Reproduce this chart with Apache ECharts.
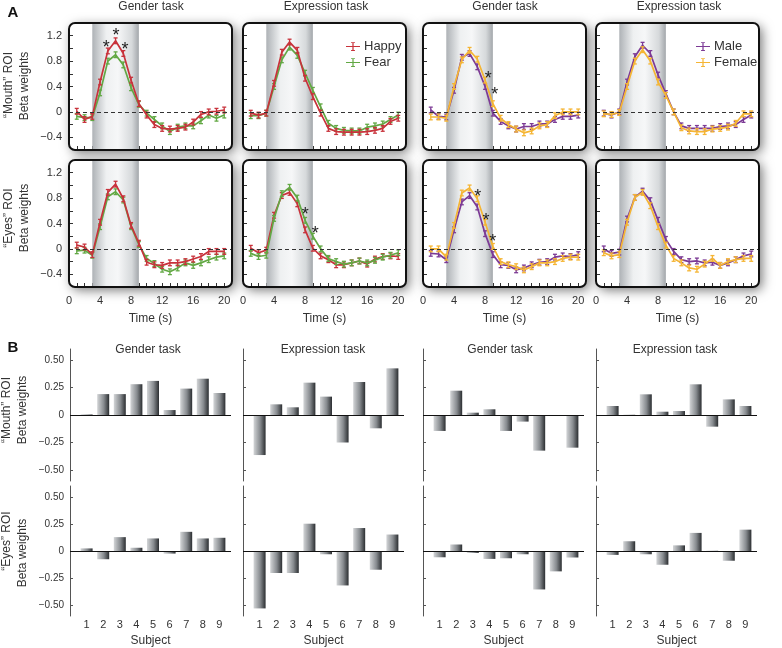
<!DOCTYPE html>
<html>
<head>
<meta charset="utf-8">
<script src="https://cdn.jsdelivr.net/npm/echarts@6.0.0/dist/echarts.min.js"></script>
<style>
html,body{margin:0;padding:0;background:#fff;}
#chart{width:782px;height:648px;}
</style>
</head>
<body>
<div id="chart"></div>
<script>
// ================= DATA =================
const timeSec = [1,2,3,4,5,6,7,8,9,10,11,12,13,14,15,16,17,18,19,20];
const timeLabelValues = [0,4,8,12,16,20];
const timeTickValues = [1,2,3,4,5,6,7,8,9,10,11,12,13,14,15,16,17,18,19,20];
const betaLabelValuesA = [-0.4,0,0.4,0.8,1.2];
const betaTickValuesA = [-0.4,-0.2,0,0.2,0.4,0.6,0.8,1.0,1.2];
const stimulusWindow = [3, 9];
const semHalf = 0.045;

// "Mouth" ROI
const mouthGenderHappy   = [0.01,-0.12,-0.07,0.47,0.96,1.12,0.92,0.50,0.13,-0.05,-0.20,-0.26,-0.27,-0.26,-0.24,-0.16,-0.04,0.00,0.01,0.03];
const mouthGenderFear    = [-0.07,-0.09,-0.09,0.30,0.80,0.90,0.74,0.38,0.12,-0.02,-0.12,-0.22,-0.31,-0.24,-0.22,-0.22,-0.14,-0.05,-0.10,-0.05];
const mouthExprHappy     = [-0.02,-0.05,-0.02,0.45,0.94,1.10,0.97,0.53,0.24,-0.02,-0.26,-0.31,-0.32,-0.32,-0.32,-0.31,-0.29,-0.26,-0.15,-0.10];
const mouthExprFear      = [-0.06,-0.06,-0.02,0.40,0.82,1.02,0.89,0.61,0.34,0.08,-0.18,-0.26,-0.29,-0.30,-0.30,-0.24,-0.22,-0.19,-0.12,-0.05];
const mouthGenderMale    = [0.03,-0.07,-0.08,0.34,0.86,0.92,0.71,0.40,-0.02,-0.15,-0.22,-0.27,-0.23,-0.23,-0.19,-0.19,-0.12,-0.07,-0.07,-0.05];
const mouthGenderFemale  = [-0.08,-0.08,-0.10,0.40,0.82,0.97,0.83,0.50,0.13,-0.10,-0.20,-0.27,-0.33,-0.30,-0.22,-0.20,-0.06,0.00,0.00,0.00];
const mouthExprMale      = [-0.02,-0.05,0.00,0.47,0.87,1.05,0.92,0.58,0.29,0.00,-0.22,-0.26,-0.26,-0.26,-0.26,-0.23,-0.22,-0.20,-0.12,-0.05];
const mouthExprFemale    = [-0.03,-0.04,-0.01,0.40,0.80,0.98,0.80,0.47,0.26,0.00,-0.25,-0.30,-0.31,-0.31,-0.27,-0.26,-0.24,-0.18,-0.03,-0.03];
// "Eyes" ROI
const eyesGenderHappy    = [0.06,0.03,-0.09,0.42,0.89,1.02,0.79,0.37,0.09,-0.21,-0.25,-0.26,-0.22,-0.22,-0.20,-0.16,-0.12,-0.04,-0.04,-0.04];
const eyesGenderFear     = [-0.03,-0.02,-0.10,0.35,0.82,0.90,0.77,0.35,0.07,-0.15,-0.23,-0.32,-0.36,-0.30,-0.22,-0.26,-0.22,-0.17,-0.13,-0.11];
const eyesExprHappy      = [0.01,-0.06,-0.02,0.53,0.84,0.89,0.71,0.30,0.01,-0.11,-0.17,-0.25,-0.25,-0.22,-0.19,-0.24,-0.16,-0.12,-0.11,-0.12];
const eyesExprFear       = [-0.07,-0.12,-0.10,0.48,0.87,0.97,0.80,0.45,0.20,0.00,-0.15,-0.20,-0.24,-0.22,-0.19,-0.22,-0.18,-0.13,-0.10,-0.06];
const eyesGenderMale     = [-0.07,-0.08,-0.17,0.30,0.74,0.84,0.66,0.24,-0.09,-0.25,-0.26,-0.33,-0.30,-0.25,-0.21,-0.20,-0.13,-0.11,-0.12,-0.09];
const eyesGenderFemale   = [0.00,0.00,-0.13,0.37,0.88,0.96,0.79,0.42,0.04,-0.20,-0.25,-0.28,-0.33,-0.28,-0.22,-0.22,-0.20,-0.15,-0.13,-0.13];
const eyesExprMale       = [0.00,-0.07,-0.05,0.47,0.81,0.91,0.76,0.45,0.15,-0.04,-0.17,-0.20,-0.19,-0.22,-0.21,-0.26,-0.22,-0.17,-0.11,-0.08];
const eyesExprFemale     = [-0.06,-0.11,-0.09,0.42,0.81,0.89,0.68,0.35,0.06,-0.15,-0.22,-0.30,-0.32,-0.24,-0.15,-0.26,-0.20,-0.17,-0.15,-0.15];

// significance asterisks [time, beta]
const starsMouthGenderEmo = [[4.8,1.09],[6.05,1.28],[7.2,1.05]];
const starsMouthGenderSex = [[8.4,0.60],[9.26,0.34]];
const starsEyesExprEmo    = [[8.03,0.61],[9.3,0.31]];
const starsEyesGenderSex  = [[7.05,0.90],[8.12,0.52],[8.98,0.18]];

// Panel B: per-subject beta weights
const subjects = [1,2,3,4,5,6,7,8,9];
const betaLabelValuesB = [-0.5,-0.25,0,0.25,0.5];
const barMouthGenderEmo = [0.005,0.19,0.19,0.28,0.31,0.045,0.24,0.33,0.20];
const barMouthExprEmo   = [-0.364,0.097,0.07,0.294,0.167,-0.25,0.30,-0.121,0.424];
const barMouthGenderSex = [-0.145,0.221,0.021,0.052,-0.145,-0.06,-0.324,-0.005,-0.297];
const barMouthExprSex   = [0.082,0.002,0.188,0.03,0.036,0.279,-0.106,0.142,0.082];
const barEyesGenderEmo  = [0.024,-0.076,0.128,0.03,0.116,-0.024,0.177,0.116,0.122];
const barEyesExprEmo    = [-0.53,-0.203,-0.203,0.252,-0.03,-0.318,0.212,-0.173,0.152];
const barEyesGenderSex  = [-0.058,0.06,-0.018,-0.073,-0.067,-0.03,-0.355,-0.188,-0.06];
const barEyesExprSex    = [-0.036,0.09,-0.03,-0.127,0.052,0.167,0.002,-0.09,0.197];

const taskTitles = ['Gender task','Expression task','Gender task','Expression task'];
const roiNames = ['\u201CMouth\u201D ROI','\u201CEyes\u201D ROI'];

// ================= STYLE / LAYOUT =================
const FONT = '"Liberation Sans", Arial, Helvetica, sans-serif';
const TXT = '#333';
const RED = '#c8323b', GREEN = '#62a844', PURPLE = '#7c3a95', YELLOW = '#f5b534';
const A_LEFT = [69, 243, 423, 596], A_W = 163, A_TOP = [23, 160], A_H = 127;
const B_LEFT = [70, 243, 423, 596], B_W = 161, B_TOP = [349, 486], B_H = 132;

const chart = echarts.init(document.getElementById('chart'), null, {renderer:'canvas'});

const grids = [], xAxes = [], yAxes = [], series = [], elements = [];

const zip = (xs, ys) => xs.map((x, i) => [x, ys[i]]);
const minus = s => s.replace('-', '\u2212');

function errRender(params, api) {
  const x = api.value(0), y = api.value(1), e = api.value(2);
  const hi = api.coord([x, y + e]), lo = api.coord([x, y - e]);
  const c = api.visual('color');
  const st = {stroke: c, lineWidth: 1.3, fill: null};
  const w = 2;
  return {type:'group', children:[
    {type:'line', shape:{x1:hi[0], y1:hi[1], x2:lo[0], y2:lo[1]}, style: st},
    {type:'line', shape:{x1:hi[0]-w, y1:hi[1], x2:hi[0]+w, y2:hi[1]}, style: st},
    {type:'line', shape:{x1:lo[0]-w, y1:lo[1], x2:lo[0]+w, y2:lo[1]}, style: st}
  ]};
}
function starRender(params, api) {
  const p = api.coord([api.value(0), api.value(1)]);
  return {type:'text', x: p[0], y: p[1] + 5, style:{text:'*', fill:'#222', font:'18px ' + FONT, textAlign:'center', textVerticalAlign:'middle'}};
}

const bandColor = {type:'linear', x:0, y:0, x2:1, y2:0, colorStops:[
  {offset:0, color:'#aeb2b6'}, {offset:0.3, color:'#eef0f1'}, {offset:0.55, color:'#f6f7f8'},
  {offset:0.85, color:'#d6d9db'}, {offset:1, color:'#a3a7ab'}]};

const panelsA = [
  {lines:[['Fear', mouthGenderFear, GREEN], ['Happy', mouthGenderHappy, RED]], stars: starsMouthGenderEmo},
  {lines:[['Fear', mouthExprFear, GREEN], ['Happy', mouthExprHappy, RED]], stars: null},
  {lines:[['Male', mouthGenderMale, PURPLE], ['Female', mouthGenderFemale, YELLOW]], stars: starsMouthGenderSex},
  {lines:[['Male', mouthExprMale, PURPLE], ['Female', mouthExprFemale, YELLOW]], stars: null},
  {lines:[['Fear', eyesGenderFear, GREEN], ['Happy', eyesGenderHappy, RED]], stars: null},
  {lines:[['Happy', eyesExprHappy, RED], ['Fear', eyesExprFear, GREEN]], stars: starsEyesExprEmo},
  {lines:[['Male', eyesGenderMale, PURPLE], ['Female', eyesGenderFemale, YELLOW]], stars: starsEyesGenderSex},
  {lines:[['Male', eyesExprMale, PURPLE], ['Female', eyesExprFemale, YELLOW]], stars: null}
];

panelsA.forEach((p, i) => {
  const row = Math.floor(i / 4), col = i % 4;
  const left = A_LEFT[col], top = A_TOP[row];
  grids.push({left: left, top: top, width: A_W, height: A_H});
  xAxes.push({
    type:'value', gridIndex: i, min: 0, max: 21, position:'bottom',
    axisLine:{show:false, onZero:false}, splitLine:{show:false},
    axisTick:{show:true, inside:true, length:4, lineStyle:{color:'#333'}, customValues: timeTickValues},
    axisLabel:{show: row === 1, customValues: timeLabelValues, margin: 8, fontSize: 11, color: TXT, fontFamily: FONT},
    name: row === 1 ? 'Time (s)' : '', nameLocation:'middle', nameGap: 26,
    nameTextStyle:{fontSize:12, color: TXT, fontFamily: FONT}
  });
  yAxes.push({
    type:'value', gridIndex: i, min: -0.6, max: 1.4,
    axisLine:{show:false, onZero:false}, splitLine:{show:false},
    axisTick:{show:true, inside:true, length:4, lineStyle:{color:'#333'}, customValues: betaTickValuesA},
    axisLabel:{show: col === 0, customValues: betaLabelValuesA, margin: 7, fontSize: 11, color: TXT, fontFamily: FONT,
      formatter: v => v === 0 ? '0' : minus(v.toFixed(1))}
  });
  p.lines.forEach((ln, k) => {
    const [name, vals, color] = ln;
    const s = {
      type:'line', name: name, xAxisIndex: i, yAxisIndex: i, data: zip(timeSec, vals),
      symbol:'none', showSymbol:false, lineStyle:{width:1.7, color: color}, itemStyle:{color: color},
      z: 3 + k, silent: true, animation: false
    };
    if (k === 0) {
      s.markArea = {silent:true, itemStyle:{color: bandColor}, data:[[{xAxis: stimulusWindow[0]}, {xAxis: stimulusWindow[1]}]]};
      s.markLine = {silent:true, symbol:['none','none'], label:{show:false},
        lineStyle:{type:[4,3], color:'#333', width:1}, data:[{yAxis:0}], animation:false};
    }
    series.push(s);
    series.push({
      type:'custom', name: name + ' sem', xAxisIndex: i, yAxisIndex: i,
      data: timeSec.map((t, j) => [t, vals[j], semHalf]),
      renderItem: errRender, itemStyle:{color: color}, z: 3 + k, silent: true, animation: false
    });
  });
  if (p.stars) {
    series.push({type:'custom', name:'sig', xAxisIndex: i, yAxisIndex: i, data: p.stars,
      renderItem: starRender, z: 10, silent: true, animation: false});
  }
  // panel frame
  elements.push({type:'rect', z:-10, silent:true,
    shape:{x:left, y:top, width:A_W, height:A_H, r:6},
    style:{fill:'#fff', shadowBlur:12, shadowColor:'rgba(0,0,0,0.55)', shadowOffsetX:3, shadowOffsetY:3}});
  elements.push({type:'rect', z:100, silent:true,
    shape:{x:left, y:top, width:A_W, height:A_H, r:6},
    style:{fill:null, stroke:'#111', lineWidth:2}});
});

// ---- Panel B bars ----
const barGrad = {type:'linear', x:0, y:0, x2:1, y2:0, colorStops:[
  {offset:0, color:'#d3d5d7'}, {offset:0.55, color:'#878b8f'}, {offset:1, color:'#2b2e31'}]};
const panelsB = [barMouthGenderEmo, barMouthExprEmo, barMouthGenderSex, barMouthExprSex,
                 barEyesGenderEmo, barEyesExprEmo, barEyesGenderSex, barEyesExprSex];
panelsB.forEach((vals, j) => {
  const i = 8 + j;
  const row = Math.floor(j / 4), col = j % 4;
  grids.push({left: B_LEFT[col], top: B_TOP[row], width: B_W, height: B_H});
  xAxes.push({
    type:'value', gridIndex: i, min: 0, max: 9.7, position:'bottom',
    axisLine:{show:false, onZero:false}, axisTick:{show:false}, splitLine:{show:false},
    axisLabel:{show: row === 1, customValues: subjects, margin: 3, fontSize: 11, color: TXT, fontFamily: FONT},
    name: row === 1 ? 'Subject' : '', nameLocation:'middle', nameGap: 19,
    nameTextStyle:{fontSize:12, color: TXT, fontFamily: FONT}
  });
  yAxes.push({
    type:'value', gridIndex: i, min: -0.6, max: 0.6,
    axisLine:{show:true, onZero:false, lineStyle:{color:'#555', width:1}}, splitLine:{show:false},
    axisTick:{show:true, inside:true, length:3, lineStyle:{color:'#555'}, customValues: betaLabelValuesB},
    axisLabel:{show: col === 0, customValues: betaLabelValuesB, margin: 6, fontSize: 10, color: TXT, fontFamily: FONT,
      formatter: v => v === 0 ? '0' : minus(v.toFixed(2))}
  });
  series.push({
    type:'bar', name:'subject beta', xAxisIndex: i, yAxisIndex: i, data: zip(subjects, vals),
    barWidth: 12, itemStyle:{color: barGrad}, silent: true, animation: false,
    markLine:{silent:true, symbol:['none','none'], label:{show:false},
      lineStyle:{type:'solid', color:'#111', width:1.2}, data:[{yAxis:0}], animation:false}
  });
});

// ---- texts ----
const txt = (text, x, y, size, extra) => Object.assign({type:'text', x: x, y: y, silent:true, z: 50,
  style:{text: text, fill: TXT, font: size + 'px ' + FONT, textAlign:'center', textVerticalAlign:'middle'}}, extra || {});
const titleXA = [151, 326, 505, 679], titleXB = [148, 323, 500, 675];
taskTitles.forEach((t, c) => {
  elements.push(txt(t, titleXA[c], 7, 12));
  elements.push(txt(t, titleXB[c], 350, 12));
});
elements.push(txt('A', 13, 13, 15, {style:{text:'A', fill:'#111', font:'bold 15px ' + FONT, textAlign:'center', textVerticalAlign:'middle'}}));
elements.push(txt('B', 13, 348, 15, {style:{text:'B', fill:'#111', font:'bold 15px ' + FONT, textAlign:'center', textVerticalAlign:'middle'}}));
const rot = {rotation: Math.PI / 2};
elements.push(txt(roiNames[0], 9, 85, 12, rot));
elements.push(txt('Beta weights', 25, 86, 12, rot));
elements.push(txt(roiNames[1], 9, 218, 12, rot));
elements.push(txt('Beta weights', 25, 218, 12, rot));
elements.push(txt(roiNames[0], 7, 410, 12, rot));
elements.push(txt('Beta weights', 23, 410, 12, rot));
elements.push(txt(roiNames[1], 7, 541, 12, rot));
elements.push(txt('Beta weights', 23, 553, 12, rot));

const legIcon = 'path://M0,4.3H16V5.7H0Z M7.3,0H8.7V10H7.3Z M5.8,0H10.2V1H5.8Z M5.8,9H10.2V10H5.8Z';
const legendBase = {orient:'vertical', itemWidth:14, itemHeight:10, itemGap:3, icon: legIcon,
  textStyle:{fontSize:13, color: TXT, fontFamily: FONT, padding:[0,0,0,-1]}, selectedMode:false};

const option = {
  backgroundColor:'#fff',
  animation:false,
  grid: grids, xAxis: xAxes, yAxis: yAxes, series: series,
  legend:[
    Object.assign({}, legendBase, {data:['Happy','Fear'], left: 341, top: 35}),
    Object.assign({}, legendBase, {data:['Male','Female'], left: 691, top: 35})
  ],
  graphic:{elements: elements}
};
chart.setOption(option);
</script>
</body>
</html>
